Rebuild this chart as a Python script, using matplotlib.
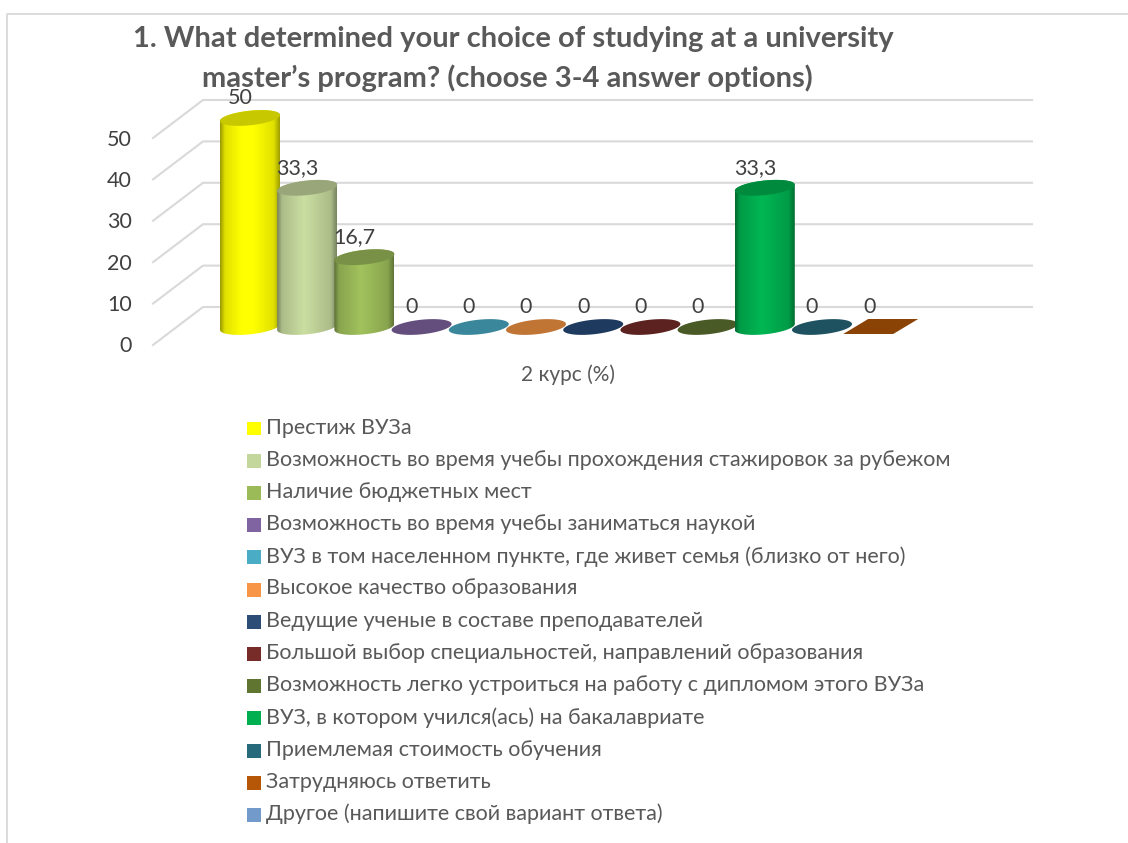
import numpy as np
import matplotlib
matplotlib.use("Agg")
import matplotlib.pyplot as plt
from matplotlib.patches import Polygon
from matplotlib.colors import to_rgb

plt.rcParams['font.family'] = ['Lato', 'Open Sans', 'DejaVu Sans']

title_lines = ["1. What determined your choice of studying at a university",
               "master’s program? (choose 3-4 answer options)"]
x_label = "2 курс (%)"
y_ticks = [0, 10, 20, 30, 40, 50]
categories = [
    "Престиж ВУЗа",
    "Возможность во время учебы прохождения стажировок за рубежом",
    "Наличие бюджетных мест",
    "Возможность во время учебы заниматься наукой",
    "ВУЗ в том населенном пункте, где живет семья (близко от него)",
    "Высокое качество образования",
    "Ведущие ученые в составе преподавателей",
    "Большой выбор специальностей, направлений образования",
    "Возможность легко устроиться на работу с дипломом этого ВУЗа",
    "ВУЗ, в котором учился(ась) на бакалавриате",
    "Приемлемая стоимость обучения",
    "Затрудняюсь ответить",
    "Другое (напишите свой вариант ответа)",
]
values = [50, 33.3, 16.7, 0, 0, 0, 0, 0, 0, 33.3, 0, 0, None]
value_labels = ["50", "33,3", "16,7", "0", "0", "0", "0", "0", "0", "33,3", "0", "0", None]
colors = ["#FFFF00", "#C3D69B", "#9BBB59", "#8064A2", "#4BACC6", "#F79646", "#2C4D75",
          "#772C2A", "#5F7530", "#00B050", "#276A7C", "#B65708", "#729ACA"]
disk_colors = ["#C8C800", "#98A679", "#789146", "#644E7E", "#3A869A", "#C07535", "#1F3A5F",
               "#5C2220", "#4A5A26", "#008A3E", "#1E5260", "#8B4205", "#729ACA"]

W, H = 1128, 843
fig = plt.figure(figsize=(W / 100, H / 100), dpi=100, facecolor="white")
ax = fig.add_axes([0, 0, 1, 1])
PX_X, PX_Y = 57.2, 4.18      # pixels per category / per value unit
X0, Y0 = 250, 327            # pixel of category 0, value 0
ax.set_xlim(-X0 / PX_X, (W - X0) / PX_X)
ax.set_ylim((Y0 - H) / PX_Y, Y0 / PX_Y)
ax.axis("off")

def dx(px):
    return px / PX_X

def dy(px):
    return px / PX_Y

grid = "#D9D9D9"
text_c = "#595959"
label_c = "#404040"

# chart frame (open at the right and bottom)
ax.plot([dx(7 - X0), dx(7 - X0), dx(W - X0)], [dy(Y0 - H), dy(Y0 - 14), dy(Y0 - 14)],
        color=grid, lw=1.3, zorder=1)

# walls and tick labels
back_x0, back_x1, front_x = dx(203 - X0), dx(1032 - X0), dx(153 - X0)
back_off, front_off = dy(Y0 - 307), dy(Y0 - 345)
for t in y_ticks:
    ax.plot([front_x, back_x0, back_x1], [t * 41.4 / 10 / PX_Y + front_off,
                                          t * 41.4 / 10 / PX_Y + back_off,
                                          t * 41.4 / 10 / PX_Y + back_off],
            color=grid, lw=1.5, zorder=1)
    ax.text(dx(132 - X0), t * 41.4 / 10 / PX_Y + front_off - dy(1.5), str(t), ha="right", va="center",
            fontsize=15.5, color=label_c, zorder=5)

half_w = 0.5 * 60 / PX_X
shade = np.interp(np.linspace(0, 1, 120), [0, .08, .45, .9, 1], [.6, .88, 1.04, .88, .62])

def gradient(color):
    c = np.array(to_rgb(color))
    g = c[None, None, :] * shade[None, :, None]
    return np.clip(g, 0, 1)

def disk(cx, cy):
    t = np.linspace(0, 2 * np.pi, 120)
    return np.column_stack([cx + half_w * np.cos(t),
                            cy + dy(7.3) * np.sin(t) + dy(3) * np.cos(t)])

for i, (v, col, top) in enumerate(zip(values, colors, disk_colors)):
    if v is None:
        continue
    z = 3 + 0.01 * i
    if i == 11:
        # last series is drawn as a flat box
        ax.add_patch(Polygon([[i - dx(36), dy(-7)], [i + dx(14), dy(-7)],
                              [i + dx(39), dy(8)], [i - dx(11), dy(8)]],
                             closed=True, fc=top, ec="none", zorder=z))
    else:
        if v > 0:
            body = np.vstack([disk(i, 0)[60:], disk(i, v)[0:60]])
            im = ax.imshow(gradient(col), extent=[i - half_w, i + half_w, dy(-8), v + dy(8)],
                           aspect="auto", interpolation="bilinear", zorder=z)
            patch = Polygon(body, closed=True, fc="none", ec="none", transform=ax.transData)
            ax.add_patch(patch)
            im.set_clip_path(patch)
        ax.add_patch(Polygon(disk(i, v), closed=True, fc=top, ec="none", zorder=z + 0.001))
    ax.text(i - dx(10), v + dy(20), value_labels[i], ha="center", va="center",
            fontsize=15.5, color=label_c, zorder=6)

ax.set_xlim(-X0 / PX_X, (W - X0) / PX_X)
ax.set_ylim((Y0 - H) / PX_Y, Y0 / PX_Y)

def fig_text(px, py, s, **kw):
    fig.text(px / W, 1 - py / H, s, va="center", **kw)

fig_text(513, 39, title_lines[0], ha="center", fontsize=21, fontweight="bold", color=text_c)
fig_text(507, 78, title_lines[1], ha="center", fontsize=21, fontweight="bold", color=text_c)
fig_text(568, 375, x_label, ha="center", fontsize=15, color=text_c)

# legend
for i, (name, col) in enumerate(zip(categories, colors)):
    py = 428.5 + 32.2 * i
    fig.patches.append(plt.Rectangle((247 / W, 1 - (py + 7) / H), 14 / W, 14 / H, fc=col, ec="none",
                                     transform=fig.transFigure, figure=fig))
    fig_text(266, py - 1, name, ha="left", fontsize=15.5, color=text_c)

fig.savefig("out.png", dpi=100, facecolor="white")
